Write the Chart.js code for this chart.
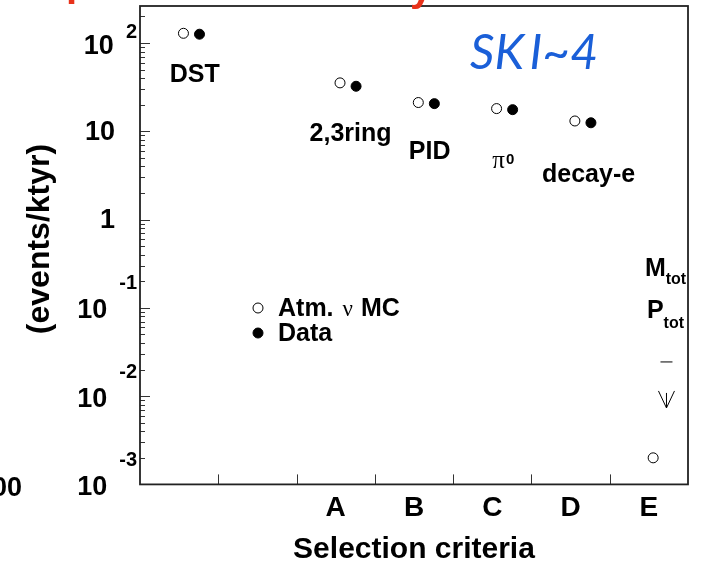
<!DOCTYPE html>
<html>
<head>
<meta charset="utf-8">
<script src="https://cdn.jsdelivr.net/npm/chart.js@4.4.1/dist/chart.umd.min.js"></script>
<style>
  html, body { margin: 0; padding: 0; background: #fff; }
  #wrap { width: 704px; height: 565px; }
</style>
</head>
<body>
<div id="wrap"><canvas id="reductionChart" width="704" height="565"></canvas></div>
<script>
// Selection steps along x (first two slots carry no letter)
const stepLetters = ['', '', 'A', 'B', 'C', 'D', 'E'];
// Rates (events/ktyr) surviving each step
const mcRates = [129, null, 35.4, 21.2, 18.1, 13.1, 0.0020];
const dataRates = [126, null, 32.4, 20.6, 17.6, 12.5, null];
// No data left after the last step: drawn as an upper limit
const dataLimitStep = 6;
const dataLimit = 0.0244;
// Powers of ten on the y axis
const decades = [-3, -2, -1, 0, 1, 2];

const SANS = '"Liberation Sans", Arial, Helvetica, sans-serif';
const SERIF = '"Liberation Serif", "Times New Roman", serif';
const MC_SHIFT = 0.555;
const DATA_SHIFT = 0.76;

function toPoints(values, shift) {
  return values
    .map((v, i) => (v == null ? null : { x: i + shift, y: v }))
    .filter(p => p);
}

// Step names written under each pair of points (x in step units, y = baseline value)
const stepTags = [
  { text: 'DST', x: 0.70, y: 36.6 },
  { text: '2,3ring', x: 2.69, y: 7.69 },
  { text: 'PID', x: 3.70, y: 4.92 },
  { text: 'decay-e', x: 5.73, y: 2.66 }
];

function put(ctx, text, x, y, font, align, baseline, color) {
  ctx.font = font;
  ctx.textAlign = align || 'left';
  ctx.textBaseline = baseline || 'alphabetic';
  ctx.fillStyle = color || '#000';
  ctx.fillText(text, x, y);
  return ctx.measureText(text).width;
}

function marker(ctx, px, py, filled) {
  ctx.beginPath();
  ctx.arc(px, py, 5, 0, Math.PI * 2);
  ctx.fillStyle = filled ? '#000' : '#fff';
  ctx.fill();
  ctx.lineWidth = 1;
  ctx.strokeStyle = '#000';
  ctx.stroke();
}

const decorations = {
  id: 'decorations',
  afterDraw(chart) {
    const { ctx, chartArea: area } = chart;
    const x = chart.scales.x;
    const y = chart.scales.y;
    ctx.save();

    // inward ticks on the left axis, 1..9 per decade
    ctx.strokeStyle = '#333';
    ctx.lineWidth = 1;
    decades.forEach(e => {
      for (let m = 1; m <= 9; m++) {
        const v = m * Math.pow(10, e);
        if (v > y.max) break;
        const py = Math.round(y.getPixelForValue(v)) + 0.5;
        const len = m === 1 ? 10 : 5;
        ctx.beginPath();
        ctx.moveTo(area.left, py);
        ctx.lineTo(area.left + len, py);
        ctx.stroke();
      }
    });

    // ticks between selection steps
    for (let i = 1; i < stepLetters.length; i++) {
      const px = Math.round(x.getPixelForValue(i)) + 0.5;
      ctx.beginPath();
      ctx.moveTo(px, area.bottom);
      ctx.lineTo(px, area.bottom - 10);
      ctx.stroke();
    }

    // frame
    ctx.lineWidth = 1.8;
    ctx.strokeStyle = '#222';
    ctx.strokeRect(area.left, area.top, area.right - area.left, area.bottom - area.top);

    // y labels: 10^n with raised exponents, plain for 1 and 10
    const baseFont = 'bold 27px ' + SANS;
    const expFont = 'bold 20px ' + SANS;
    decades.forEach(e => {
      const py = y.getPixelForValue(Math.pow(10, e));
      if (e === 0 || e === 1) {
        put(ctx, e === 0 ? '1' : '10', area.left - 25, py + 1, baseFont, 'right', 'middle');
        return;
      }
      const expText = String(e);
      ctx.font = expFont;
      const expW = ctx.measureText(expText).width;
      const expRight = area.left - 3;
      put(ctx, expText, expRight, py + (e < 0 ? -24 : -11), expFont, 'right', 'middle');
      put(ctx, '10', expRight - expW - 12, py + 3, baseFont, 'right', 'middle');
    });

    // y axis title
    ctx.save();
    ctx.translate(40, 239);
    ctx.rotate(-Math.PI / 2);
    put(ctx, '(events/ktyr)', 0, 0, 'bold 32px ' + SANS, 'center', 'middle');
    ctx.restore();

    // step names
    const tagFont = 'bold 25px ' + SANS;
    stepTags.forEach(t => {
      put(ctx, t.text, x.getPixelForValue(t.x), y.getPixelForValue(t.y), tagFont, 'center');
    });
    // pi0
    const piX = x.getPixelForValue(4.50);
    const piY = y.getPixelForValue(3.89);
    const piW = put(ctx, '\u03c0', piX, piY, '25px ' + SERIF);
    put(ctx, '0', piX + piW + 1, piY - 4, 'bold 15px ' + SANS);
    // M_tot and P_tot
    const mX = x.getPixelForValue(6.45);
    const mY = y.getPixelForValue(0.230);
    const mW = put(ctx, 'M', mX, mY, tagFont);
    put(ctx, 'tot', mX + mW, mY + 8, 'bold 16px ' + SANS);
    const pX = x.getPixelForValue(6.475);
    const pY = y.getPixelForValue(0.0766);
    const pW = put(ctx, 'P', pX, pY, tagFont);
    put(ctx, 'tot', pX + pW, pY + 10, 'bold 16px ' + SANS);

    // upper limit for data at the last step
    const lx = x.getPixelForValue(dataLimitStep + 0.725);
    const ly = y.getPixelForValue(dataLimit);
    ctx.strokeStyle = '#000';
    ctx.lineWidth = 1;
    ctx.beginPath();
    ctx.moveTo(lx - 6, ly); ctx.lineTo(lx + 6, ly);
    ctx.moveTo(lx, ly + 31); ctx.lineTo(lx, ly + 46);
    ctx.moveTo(lx - 8, ly + 29); ctx.lineTo(lx, ly + 46); ctx.lineTo(lx + 8, ly + 29);
    ctx.stroke();

    // legend
    const ds = chart.data.datasets;
    const lgX = area.left + 118;
    marker(ctx, lgX, area.top + 302, false);
    marker(ctx, lgX, area.top + 327, true);
    const tx = area.left + 138;
    const legFont = 'bold 25px ' + SANS;
    let w = put(ctx, 'Atm.', tx, area.top + 310, legFont);
    w += put(ctx, '\u03bd', tx + w + 9, area.top + 310, '23px ' + SERIF) + 9;
    put(ctx, 'MC', tx + w + 8, area.top + 310, legFont);
    put(ctx, ds[1].label, tx, area.top + 335, legFont);

    // run tag
    put(ctx, 'SK\u2009I~4', area.left + 330, area.top + 63, 'italic 400 48px Lato, "Open Sans", sans-serif', 'left', 'alphabetic', '#1a5fd8');

    // neighbouring slide text cut by the frame
    put(ctx, 'p', 66, -4, 'bold 40px ' + SANS, 'left', 'alphabetic', '#e8321a');
    put(ctx, 'y', 410, 1, 'bold 40px ' + SANS, 'left', 'alphabetic', '#e8321a');
    put(ctx, '100', 22, 489, baseFont, 'right', 'middle');

    ctx.restore();
  }
};

new Chart(document.getElementById('reductionChart'), {
  type: 'scatter',
  data: {
    datasets: [
      {
        label: 'Atm. \u03bd MC',
        data: toPoints(mcRates, MC_SHIFT),
        pointRadius: 5,
        pointBackgroundColor: '#fff',
        pointBorderColor: '#000',
        pointBorderWidth: 1
      },
      {
        label: 'Data',
        data: toPoints(dataRates, DATA_SHIFT),
        pointRadius: 5,
        pointBackgroundColor: '#000',
        pointBorderColor: '#000',
        pointBorderWidth: 1
      }
    ]
  },
  options: {
    responsive: false,
    devicePixelRatio: 1,
    animation: false,
    layout: { padding: { left: 140, right: 16, top: 6, bottom: 0 } },
    plugins: {
      legend: { display: false },
      tooltip: { enabled: false }
    },
    scales: {
      x: {
        type: 'linear',
        min: 0,
        max: stepLetters.length,
        afterBuildTicks: scale => {
          scale.ticks = stepLetters.map((_, i) => ({ value: i + 0.5 }));
        },
        grid: { display: false, drawTicks: false },
        border: { display: false },
        ticks: {
          autoSkip: false,
          maxRotation: 0,
          padding: 7,
          color: '#000',
          font: { family: SANS, size: 28, weight: 'bold' },
          callback: value => stepLetters[Math.floor(value)]
        },
        title: {
          display: true,
          text: 'Selection criteria',
          color: '#000',
          font: { family: SANS, size: 30, weight: 'bold' },
          padding: { top: 0, bottom: -3 }
        }
      },
      y: {
        type: 'logarithmic',
        min: 0.001,
        max: 263,
        grid: { display: false, drawTicks: false },
        border: { display: false },
        ticks: { display: false }
      }
    }
  },
  plugins: [decorations]
});
</script>
</body>
</html>
